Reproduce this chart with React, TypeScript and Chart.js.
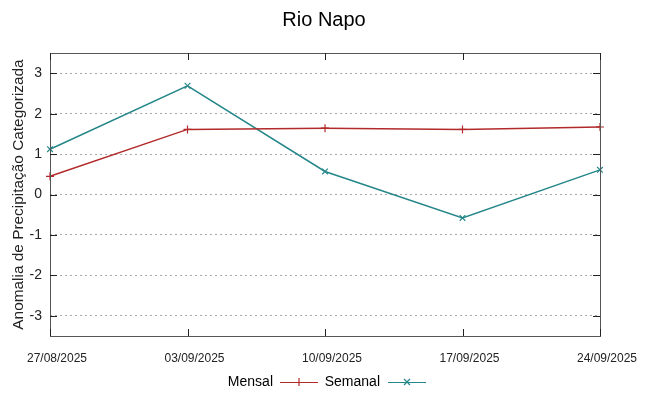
import React, { useEffect, useRef } from "react";
import { Chart, registerables } from "chart.js";

Chart.register(...registerables);

const categories = ["27/08/2025", "03/09/2025", "10/09/2025", "17/09/2025", "24/09/2025"];
const mensal = [0.45, 1.61, 1.64, 1.61, 1.67];
const semanal = [1.12, 2.69, 0.57, -0.58, 0.61];
const yTicks = [-3, -2, -1, 0, 1, 2, 3];
const titleText = "Rio Napo";
const yLabel = "Anomalia de Precipitação Categorizada";

const FONT = "'Liberation Sans', Arial, sans-serif";
const RED = "#b22a2a";
const TEAL = "#26878a";

const framePlugin = {
  id: "frame",
  afterDraw(chart: any) {
    const { ctx, chartArea } = chart;
    const { left, right, top, bottom } = chartArea;
    ctx.save();
    // border
    ctx.strokeStyle = "#555";
    ctx.lineWidth = 1;
    ctx.strokeRect(Math.round(left) + 0.5, Math.round(top) + 0.5, Math.round(right - left), Math.round(bottom - top));
    // ticks
    ctx.strokeStyle = "#222";
    ctx.beginPath();
    const ys = chart.scales.y;
    yTicks.forEach((v) => {
      const py = Math.round(ys.getPixelForValue(v)) + 0.5;
      ctx.moveTo(left, py);
      ctx.lineTo(left + 7, py);
      ctx.moveTo(right, py);
      ctx.lineTo(right - 7, py);
    });
    const xs = chart.scales.x;
    categories.forEach((_c, i) => {
      const px = Math.round(xs.getPixelForValue(i)) + 0.5;
      ctx.moveTo(px, bottom);
      ctx.lineTo(px, bottom - 7);
      ctx.moveTo(px, top);
      ctx.lineTo(px, top + 7);
    });
    ctx.stroke();

    // title
    ctx.fillStyle = "#000";
    ctx.font = `20px ${FONT}`;
    ctx.textAlign = "center";
    ctx.textBaseline = "middle";
    ctx.fillText(titleText, chart.width / 2, 20);

    // legend
    const items = chart.data.datasets;
    ctx.font = `14px ${FONT}`;
    const ly = 382;
    const entries = [
      { textRight: 273, x0: 280, x1: 318 },
      { textRight: 380, x0: 388, x1: 426 },
    ];
    items.forEach((ds: any, i: number) => {
      const e = entries[i];
      ctx.fillStyle = "#000";
      ctx.textAlign = "right";
      ctx.fillText(ds.label, e.textRight, ly);
      ctx.strokeStyle = ds.borderColor;
      ctx.lineWidth = 1.2;
      ctx.beginPath();
      ctx.moveTo(e.x0, ly + 0.5);
      ctx.lineTo(e.x1, ly + 0.5);
      const cx = (e.x0 + e.x1) / 2;
      const r = 4;
      if (i === 0) {
        ctx.moveTo(cx, ly - r);
        ctx.lineTo(cx, ly + r);
      } else {
        ctx.moveTo(cx - r * 0.75, ly - r * 0.75);
        ctx.lineTo(cx + r * 0.75, ly + r * 0.75);
        ctx.moveTo(cx - r * 0.75, ly + r * 0.75);
        ctx.lineTo(cx + r * 0.75, ly - r * 0.75);
      }
      ctx.stroke();
    });
    ctx.restore();
  },
};

export default function App() {
  const ref = useRef<HTMLCanvasElement | null>(null);
  useEffect(() => {
    if (!ref.current) return;
    const chart = new Chart(ref.current, {
      type: "line",
      data: {
        labels: categories,
        datasets: [
          {
            label: "Mensal",
            data: mensal,
            borderColor: RED,
            backgroundColor: RED,
            borderWidth: 1.5,
            pointStyle: "cross",
            pointRadius: 4,
            pointBorderWidth: 1.2,
            tension: 0,
          },
          {
            label: "Semanal",
            data: semanal,
            borderColor: TEAL,
            backgroundColor: TEAL,
            borderWidth: 1.5,
            pointStyle: "crossRot",
            pointRadius: 4,
            pointBorderWidth: 1.2,
            tension: 0,
          },
        ],
      },
      options: {
        responsive: false,
        animation: false,
        layout: { padding: { top: 53, right: 48, left: 0, bottom: 0 } },
        plugins: {
          legend: { display: false },
          title: { display: false },
          tooltip: { enabled: false },
        },
        scales: {
          x: {
            type: "category",
            offset: false,
            grid: { display: false, drawTicks: false },
            border: { display: false },
            ticks: {
              color: "#222",
              font: { family: FONT, size: 12 },
              padding: 15,
              labelOffset: 7,
              maxRotation: 0,
              autoSkip: false,
            },
            afterFit(scale: any) {
              scale.height = 60;
            },
          },
          y: {
            min: -3.5,
            max: 3.5,
            afterBuildTicks(scale: any) {
              scale.ticks = yTicks.map((v) => ({ value: v }));
            },
            grid: {
              color: "#a8a8a8",
              drawTicks: false,
              lineWidth: 1,
            },
            border: { display: false, dash: [2, 3] },
            ticks: {
              color: "#222",
              font: { family: FONT, size: 14 },
              padding: 8,
            },
            title: {
              display: true,
              text: yLabel,
              color: "#222",
              font: { family: FONT, size: 15.4 },
              padding: { top: 10, bottom: 0 },
            },
            afterFit(scale: any) {
              scale.width = 50;
            },
          },
        },
      } as any,
      plugins: [framePlugin],
    });
    return () => chart.destroy();
  }, []);
  return (
    <div style={{ position: "fixed", left: 0, top: 0, width: 648, height: 396, background: "#fff" }}>
      <canvas ref={ref} width={648} height={396} style={{ width: 648, height: 396 }} />
    </div>
  );
}
